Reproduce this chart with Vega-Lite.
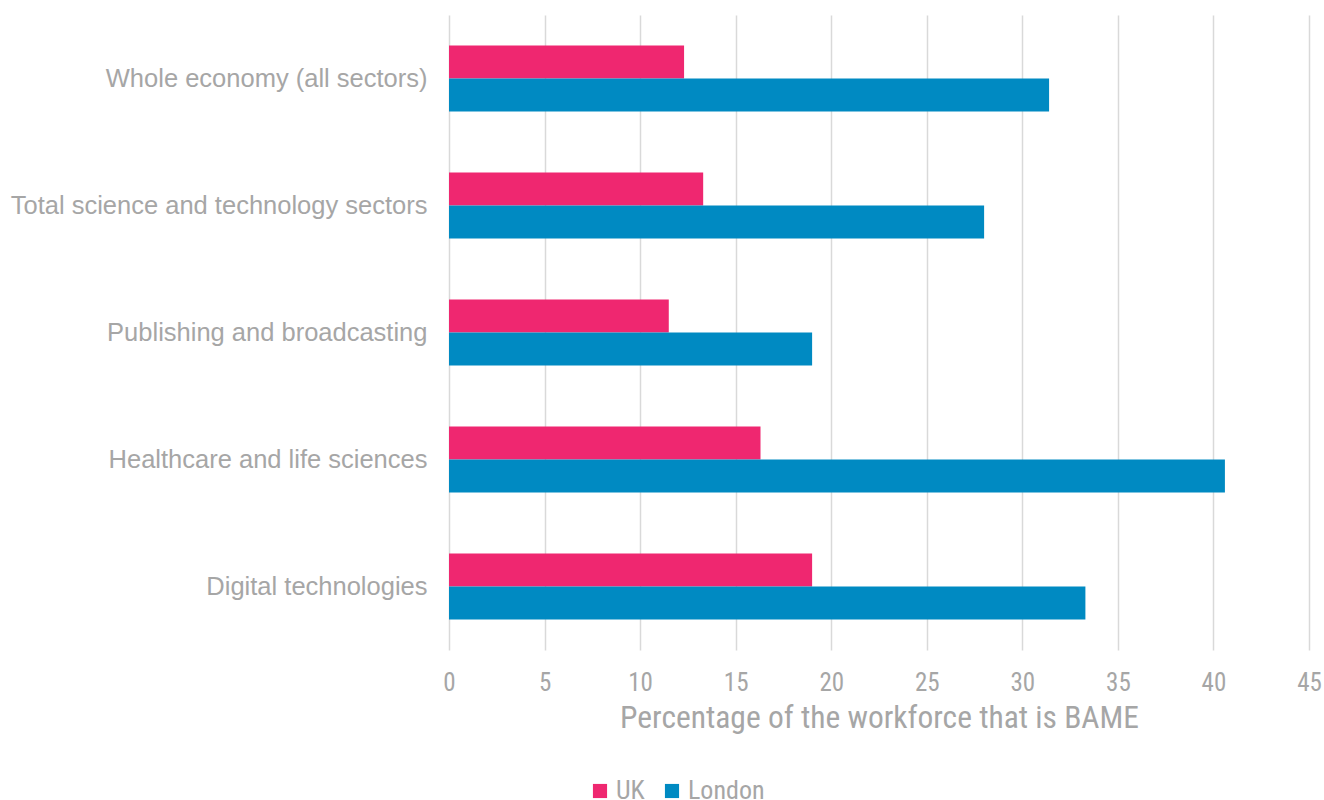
{
  "$schema": "https://vega.github.io/schema/vega-lite/v6.json",
  "autosize": {"type": "none"},
  "width": 860,
  "height": 635,
  "padding": {"left": 449, "top": 15, "right": 15, "bottom": 150},
  "background": "white",
  "config": {"view": {"stroke": null}},
  "data": {
    "values": [
      {"sector": "Whole economy (all sectors)", "area": "UK", "value": 12.3},
      {"sector": "Whole economy (all sectors)", "area": "London", "value": 31.4},
      {"sector": "Total science and technology sectors", "area": "UK", "value": 13.3},
      {"sector": "Total science and technology sectors", "area": "London", "value": 28.0},
      {"sector": "Publishing and broadcasting", "area": "UK", "value": 11.5},
      {"sector": "Publishing and broadcasting", "area": "London", "value": 19.0},
      {"sector": "Healthcare and life sciences", "area": "UK", "value": 16.3},
      {"sector": "Healthcare and life sciences", "area": "London", "value": 40.6},
      {"sector": "Digital technologies", "area": "UK", "value": 19.0},
      {"sector": "Digital technologies", "area": "London", "value": 33.3}
    ]
  },
  "mark": {"type": "bar"},
  "encoding": {
    "y": {
      "field": "sector",
      "type": "nominal",
      "sort": ["Whole economy (all sectors)", "Total science and technology sectors", "Publishing and broadcasting", "Healthcare and life sciences", "Digital technologies"],
      "scale": {"paddingInner": 0.48, "paddingOuter": 0.24},
      "axis": {
        "title": null,
        "domain": false,
        "ticks": false,
        "labelFont": "Liberation Sans",
        "labelFontSize": 25.5,
        "labelColor": "#A6A6A6",
        "labelPadding": 22,
        "labelLimit": 500
      }
    },
    "yOffset": {
      "field": "area",
      "type": "nominal",
      "sort": ["UK", "London"]
    },
    "x": {
      "field": "value",
      "type": "quantitative",
      "scale": {"domain": [0, 45], "nice": false},
      "axis": {
        "title": "Percentage of the workforce that is BAME",
        "values": [0, 5, 10, 15, 20, 25, 30, 35, 40, 45],
        "domain": false,
        "ticks": false,
        "grid": true,
        "gridColor": "#D9D9D9",
        "gridWidth": 1.5,
        "labelFlush": false,
        "labelFont": "Roboto Condensed, Liberation Sans",
        "labelFontSize": 25,
        "labelColor": "#A6A6A6",
        "labelPadding": 20,
        "titleFont": "Roboto Condensed, Liberation Sans",
        "titleFontSize": 31.5,
        "titleFontWeight": "normal",
        "titleColor": "#A6A6A6",
        "titlePadding": 7
      }
    },
    "color": {
      "field": "area",
      "type": "nominal",
      "sort": ["UK", "London"],
      "scale": {"domain": ["UK", "London"], "range": ["#EF2770", "#008AC2"]},
      "legend": {
        "title": null,
        "orient": "none",
        "direction": "horizontal",
        "legendX": 138,
        "legendY": 763,
        "symbolType": "square",
        "symbolSize": 200,
        "symbolStrokeWidth": 0,
        "labelFont": "Roboto Condensed, Liberation Sans",
        "labelFontSize": 26,
        "labelColor": "#A6A6A6",
        "labelOffset": 3,
        "columnPadding": 14
      }
    }
  }
}
